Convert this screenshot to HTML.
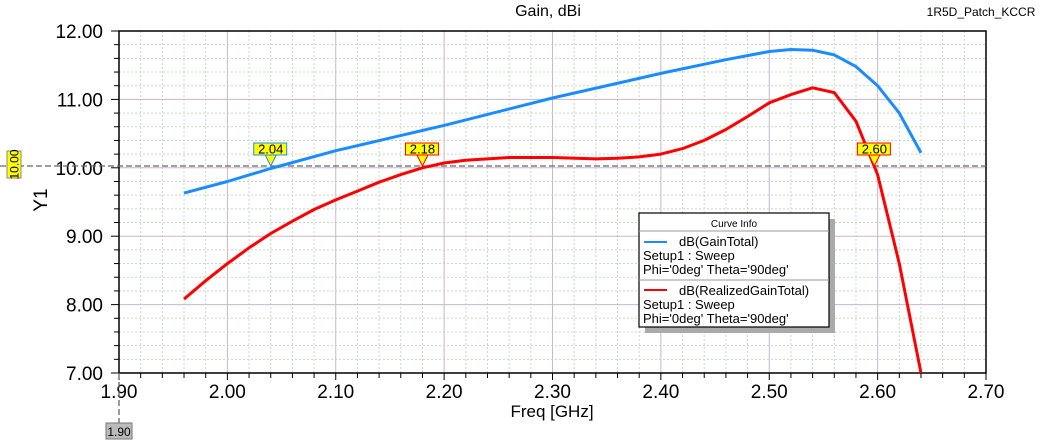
<!DOCTYPE html>
<html><head><meta charset="utf-8"><style>
html,body{margin:0;padding:0;background:#fff;}
svg{display:block;font-family:"Liberation Sans",Arial,sans-serif;}
</style></head><body>
<svg id="s" width="1061" height="442" viewBox="0 0 1061 442" xmlns="http://www.w3.org/2000/svg">
<rect width="1061" height="442" fill="#fff"/>
<g id="grid"></g>
<text x="548" y="16" font-size="16" text-anchor="middle" fill="#000">Gain, dBi</text>
<text x="981" y="16" font-size="12" text-anchor="middle" fill="#000">1R5D_Patch_KCCR</text>
<text x="0" y="0" font-size="19" text-anchor="middle" transform="translate(47,200) rotate(-90)">Y1</text>
<text x="552" y="417" font-size="17" text-anchor="middle">Freq [GHz]</text>
<g id="ticks"></g>
<line x1="0" y1="166" x2="986" y2="166" stroke="#666" stroke-width="1.3" stroke-dasharray="6,3"/>
<line x1="119" y1="373" x2="119" y2="424" stroke="#666" stroke-width="1.3" stroke-dasharray="6,3"/>
<rect x="7" y="151" width="14" height="27" fill="#ffff00" stroke="#888"/>
<text x="0" y="0" font-size="12" text-anchor="middle" transform="translate(18.5,164.5) rotate(-90)">10.00</text>
<rect x="106" y="423" width="26" height="16" fill="#bbb" stroke="#777"/>
<text x="119" y="436" font-size="12" text-anchor="middle">1.90</text>
<polyline id="blue" fill="none" stroke="#1a8cff" stroke-width="3" stroke-linejoin="round"/>
<polyline id="red" fill="none" stroke="#ff0000" stroke-width="3" stroke-linejoin="round"/>
<g id="marks"></g>
<rect x="645" y="219" width="190" height="114" fill="#aaa"/>
<rect x="639" y="213" width="190" height="114" fill="#fff" stroke="#000" stroke-width="1.2"/>
<text x="734" y="227" font-size="10" text-anchor="middle">Curve Info</text>
<line x1="639" y1="231" x2="829" y2="231" stroke="#999"/>
<line x1="639" y1="280" x2="829" y2="280" stroke="#999"/>
<line x1="644" y1="242" x2="667" y2="242" stroke="#1a8cff" stroke-width="2"/>
<line x1="644" y1="290" x2="667" y2="290" stroke="#ff0000" stroke-width="2"/>
<g font-size="13" fill="#000">
<text x="679" y="246">dB(GainTotal)</text>
<text x="643" y="260">Setup1 : Sweep</text>
<text x="643" y="274">Phi='0deg' Theta='90deg'</text>
<text x="679" y="295">dB(RealizedGainTotal)</text>
<text x="643" y="309">Setup1 : Sweep</text>
<text x="643" y="323">Phi='0deg' Theta='90deg'</text>
</g>
</svg>
<script>
var NS="http://www.w3.org/2000/svg";
function X(f){return 119+(f-1.9)/0.8*867;}
function Y(v){return 31+(12-v)/5*342;}
function el(p,t,a,txt){var e=document.createElementNS(NS,t);for(var k in a)e.setAttribute(k,a[k]);if(txt)e.textContent=txt;document.getElementById(p).appendChild(e);return e;}
for(var i=1;i<40;i++){var x=X(1.9+i*0.02);var maj=i%5==0;
el("grid","line",{x1:x,y1:31,x2:x,y2:373,stroke:maj?"#c8b8c8":"#c8d8c8","stroke-width":1,"stroke-dasharray":maj?"":"2,2"});}
for(var j=1;j<25;j++){var y=31+j*342/25;var maj=j%5==0;
el("grid","line",{x1:119,y1:y,x2:986,y2:y,stroke:maj?"#c8b8c8":"#c8d8c8","stroke-width":1,"stroke-dasharray":maj?"":"2,2"});}
el("grid","rect",{x:119,y:31,width:867,height:342,fill:"none",stroke:"#000","stroke-width":1.5});
for(var i=0;i<=40;i++){var x=X(1.9+i*0.02);var maj=i%5==0;
el("ticks","line",{x1:x,y1:373,x2:x,y2:maj?380:378,stroke:"#000"});
if(maj)el("ticks","text",{x:x,y:398,"font-size":19,"text-anchor":"middle"},(1.9+i*0.02).toFixed(2));}
for(var j=0;j<=25;j++){var y=31+j*342/25;var maj=j%5==0;
el("ticks","line",{x1:maj?111:114,y1:y,x2:119,y2:y,stroke:"#000"});
if(maj)el("ticks","text",{x:103,y:y+7,"font-size":19,"text-anchor":"end"},(12-j/5).toFixed(2));}
var b=[[1.96,9.63],[2.0,9.8],[2.04,9.99],[2.1,10.25],[2.2,10.62],[2.3,11.02],[2.4,11.38],[2.46,11.58],[2.5,11.7],[2.52,11.73],[2.54,11.72],[2.56,11.65],[2.58,11.48],[2.6,11.2],[2.62,10.8],[2.64,10.22]];
var r=[[1.96,8.08],[1.98,8.35],[2.0,8.6],[2.02,8.83],[2.04,9.04],[2.06,9.22],[2.08,9.39],[2.1,9.53],[2.12,9.66],[2.14,9.79],[2.16,9.9],[2.18,10.0],[2.2,10.07],[2.22,10.11],[2.24,10.13],[2.26,10.15],[2.3,10.15],[2.34,10.13],[2.36,10.14],[2.38,10.16],[2.4,10.2],[2.42,10.28],[2.44,10.4],[2.46,10.56],[2.48,10.75],[2.5,10.95],[2.52,11.07],[2.54,11.17],[2.56,11.1],[2.58,10.68],[2.6,9.9],[2.62,8.6],[2.64,7.0]];
function pts(a){return a.map(function(p){return X(p[0]).toFixed(1)+","+Y(p[1]).toFixed(1);}).join(" ");}
document.getElementById("blue").setAttribute("points",pts(b));
document.getElementById("red").setAttribute("points",pts(r));
function mark(f,c,t){var x=X(f);
el("marks","polygon",{points:(x-6)+",154 "+(x+6)+",154 "+x+",166",fill:"#ffff00",stroke:c});
el("marks","rect",{x:x-17,y:143,width:33,height:12,fill:"#ffff00",stroke:c});
el("marks","text",{x:x,y:153.5,"font-size":13,"text-anchor":"middle"},t);}
mark(2.04,"#1a8cff","2.04");mark(2.18,"#ff0000","2.18");mark(2.597,"#ff0000","2.60");
</script>
</body></html>
